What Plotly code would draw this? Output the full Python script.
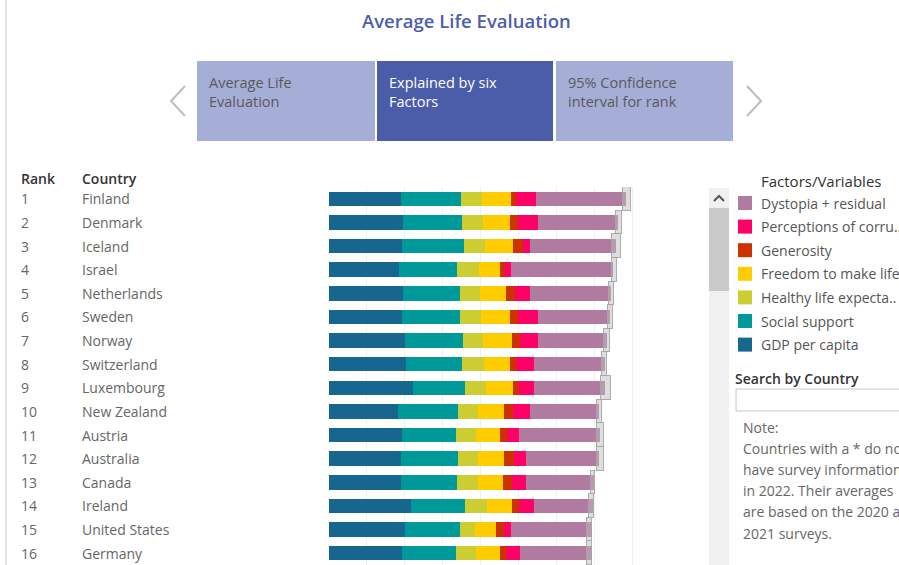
import plotly.graph_objects as go

W, H = 899, 565

# ---------------- data ----------------
ranks = list(range(1, 17))
countries = ["Finland", "Denmark", "Iceland", "Israel", "Netherlands", "Sweden", "Norway",
             "Switzerland", "Luxembourg", "New Zealand", "Austria", "Australia", "Canada",
             "Ireland", "United States", "Germany"]

gdp = [1.888, 1.949, 1.926, 1.833, 1.942, 1.921, 1.994, 2.026, 2.202, 1.825, 1.921, 1.895, 1.895, 2.149, 1.991, 1.921]
social = [1.585, 1.548, 1.620, 1.521, 1.488, 1.510, 1.521, 1.465, 1.368, 1.561, 1.412, 1.500, 1.474, 1.430, 1.456, 1.412]
health = [0.535, 0.537, 0.559, 0.577, 0.545, 0.562, 0.544, 0.579, 0.544, 0.526, 0.535, 0.526, 0.553, 0.561, 0.377, 0.535]
freedom = [0.772, 0.734, 0.738, 0.569, 0.672, 0.754, 0.752, 0.693, 0.719, 0.675, 0.623, 0.684, 0.658, 0.667, 0.570, 0.623]
generosity = [0.126, 0.208, 0.250, 0.124, 0.251, 0.225, 0.212, 0.158, 0.158, 0.237, 0.175, 0.263, 0.219, 0.184, 0.211, 0.149]
corruption = [0.535, 0.525, 0.187, 0.158, 0.394, 0.520, 0.463, 0.465, 0.395, 0.465, 0.325, 0.298, 0.368, 0.395, 0.184, 0.377]
dystopia = [2.363, 2.084, 2.250, 2.691, 2.110, 1.903, 1.829, 1.860, 1.860, 1.816, 2.140, 1.930, 1.807, 1.561, 2.132, 1.895]

whisker_low = [7.732, 7.530, 7.443, 7.424, 7.346, 7.327, 7.222, 7.180, 7.135, 7.030, 7.050, 7.050, 6.890, 6.830, 6.790, 6.790]
whisker_high = [7.924, 7.705, 7.661, 7.574, 7.477, 7.469, 7.380, 7.310, 7.400, 7.180, 7.220, 7.220, 7.000, 6.960, 6.920, 6.920]

factor_names = ["GDP per capita", "Social support", "Healthy life expectancy",
                "Freedom to make life choices", "Generosity",
                "Perceptions of corruption", "Dystopia + residual"]
factor_values = [gdp, social, health, freedom, generosity, corruption, dystopia]
factor_colors = ["#17668f", "#00999a", "#cccc33", "#ffcc00", "#cc3300", "#ff0066", "#b07aa1"]

legend_labels = ["Dystopia + residual", "Perceptions of corru..", "Generosity",
                 "Freedom to make life choices", "Healthy life expecta..",
                 "Social support", "GDP per capita"]
legend_colors = ["#b07aa1", "#ff0066", "#cc3300", "#ffcc00", "#cccc33", "#00999a", "#17668f"]

FONT = "Open Sans"


def X(px):
    return px / W


def Y(py):
    return 1 - py / H


fig = go.Figure()

for name, vals, col in zip(factor_names, factor_values, factor_colors):
    fig.add_trace(go.Bar(
        y=ranks, x=vals, orientation="h", name=name,
        marker=dict(color=col, line=dict(width=0)),
        width=0.61, xaxis="x", yaxis="y", showlegend=False,
    ))

# confidence whiskers
fig.add_trace(go.Bar(
    y=ranks, x=[h - l for h, l in zip(whisker_high, whisker_low)], base=whisker_low,
    orientation="h", width=1.0, xaxis="x2", yaxis="y",
    marker=dict(color="rgba(190,190,190,0.5)", line=dict(color="rgba(165,165,165,0.9)", width=1)),
    showlegend=False, name="95% CI",
))

shapes = []
annotations = []

# left border
shapes.append(dict(type="line", xref="paper", yref="paper", x0=X(6), x1=X(6), y0=0, y1=1,
                   line=dict(color="#e4e4e4", width=2)))

# title
annotations.append(dict(text="Average Life Evaluation", xref="paper", yref="paper",
                        x=X(466), y=Y(20), xanchor="center", yanchor="middle", showarrow=False,
                        font=dict(family=FONT, size=18.5, color="#4e5ea8", weight=600)))

# tabs
tabs = [(197, 375, "#a5aed6", "Average Life<br>Evaluation", "#5a5a5a"),
        (377, 553, "#4b5da9", "Explained by six<br>Factors", "#ffffff"),
        (556, 733, "#a5aed6", "95% Confidence<br>interval for rank", "#5a5a5a")]
for x0, x1, fill, txt, tc in tabs:
    shapes.append(dict(type="rect", xref="paper", yref="paper", x0=X(x0), x1=X(x1), y0=Y(141), y1=Y(61),
                       fillcolor=fill, line=dict(width=0)))
    annotations.append(dict(text=txt, xref="paper", yref="paper", x=X(x0 + 10), y=Y(71),
                            xanchor="left", yanchor="top", align="left", showarrow=False,
                            font=dict(family=FONT, size=14.5, color=tc)))

# chevrons
shapes.append(dict(type="path", xref="paper", yref="paper",
                   path=f"M {X(185)} {Y(86)} L {X(171)} {Y(101)} L {X(185)} {Y(116)}",
                   line=dict(color="#bdbdbd", width=2)))
shapes.append(dict(type="path", xref="paper", yref="paper",
                   path=f"M {X(747)} {Y(86)} L {X(761)} {Y(101)} L {X(747)} {Y(116)}",
                   line=dict(color="#bdbdbd", width=2)))

# table headers
annotations.append(dict(text="Rank", xref="paper", yref="paper", x=X(18.5), y=Y(178),
                        xanchor="left", yanchor="middle", showarrow=False,
                        font=dict(family=FONT, size=14, color="#333333", weight=600)))
annotations.append(dict(text="Country", xref="paper", yref="paper", x=X(79.5), y=Y(178),
                        xanchor="left", yanchor="middle", showarrow=False,
                        font=dict(family=FONT, size=14, color="#333333", weight=600)))
for r, c in zip(ranks, countries):
    annotations.append(dict(text=str(r), xref="paper", yref="y", x=X(18.5), y=r,
                            xanchor="left", yanchor="middle", showarrow=False,
                            font=dict(family=FONT, size=14, color="#666666")))
    annotations.append(dict(text=c, xref="paper", yref="y", x=X(79.5), y=r,
                            xanchor="left", yanchor="middle", showarrow=False,
                            font=dict(family=FONT, size=14, color="#666666")))

# scrollbar
shapes.append(dict(type="rect", xref="paper", yref="paper", x0=X(709), x1=X(729), y0=0, y1=Y(188),
                   fillcolor="#f0f0f0", line=dict(width=0)))
shapes.append(dict(type="rect", xref="paper", yref="paper", x0=X(709), x1=X(729), y0=Y(291), y1=Y(208),
                   fillcolor="#c9c9c9", line=dict(width=0)))
shapes.append(dict(type="path", xref="paper", yref="paper",
                   path=f"M {X(714)} {Y(201)} L {X(719)} {Y(196)} L {X(724)} {Y(201)}",
                   line=dict(color="#555555", width=2)))

# legend
annotations.append(dict(text="Factors/Variables", xref="paper", yref="paper", x=X(759), y=Y(181),
                        xanchor="left", yanchor="middle", showarrow=False,
                        font=dict(family=FONT, size=15, color="#333333")))
for i, (lab, col) in enumerate(zip(legend_labels, legend_colors)):
    yc = 203 + i * 23.6
    shapes.append(dict(type="rect", xref="paper", yref="paper", x0=X(738), x1=X(752),
                       y0=Y(yc + 7), y1=Y(yc - 7), fillcolor=col, line=dict(width=0)))
    annotations.append(dict(text=lab, xref="paper", yref="paper", x=X(759), y=Y(yc),
                            xanchor="left", yanchor="middle", showarrow=False,
                            font=dict(family=FONT, size=14, color="#555555")))

# search
annotations.append(dict(text="Search by Country", xref="paper", yref="paper", x=X(733), y=Y(378),
                        xanchor="left", yanchor="middle", showarrow=False,
                        font=dict(family=FONT, size=14, color="#333333", weight=600)))
shapes.append(dict(type="rect", xref="paper", yref="paper", x0=X(736), x1=X(910), y0=Y(411), y1=Y(389),
                   fillcolor="#ffffff", line=dict(color="#c8c8c8", width=1)))

note_lines = ["Note:", "Countries with a * do not", "have survey information",
              "in 2022. Their averages", "are based on the 2020 and", "2021 surveys."]
for i, t in enumerate(note_lines):
    annotations.append(dict(text=t, xref="paper", yref="paper", x=X(741), y=Y(427 + i * 21.2),
                            xanchor="left", yanchor="middle", showarrow=False,
                            font=dict(family=FONT, size=14, color="#666666")))

x_dom = [X(328.5), X(671)]
fig.update_layout(
    width=W, height=H, margin=dict(l=0, r=0, t=0, b=0),
    paper_bgcolor="white", plot_bgcolor="white",
    barmode="stack", bargap=0,
    xaxis=dict(domain=x_dom, range=[0, 9], dtick=1, showgrid=True, gridcolor="#f0f0f0",
               gridwidth=1, zeroline=False, showticklabels=False, ticks="", fixedrange=True),
    xaxis2=dict(domain=x_dom, range=[0, 9], overlaying="x", showgrid=False, zeroline=False,
                showticklabels=False, ticks="", matches="x"),
    yaxis=dict(domain=[0, Y(187)], range=[16.5, 0.5], showgrid=False, zeroline=False,
               showticklabels=False, ticks=""),
    shapes=shapes, annotations=annotations, showlegend=False,
)

fig.write_html("out.html", config={"displayModeBar": False},
               post_script="document.body.style.margin='0';document.body.style.overflow='hidden';")
